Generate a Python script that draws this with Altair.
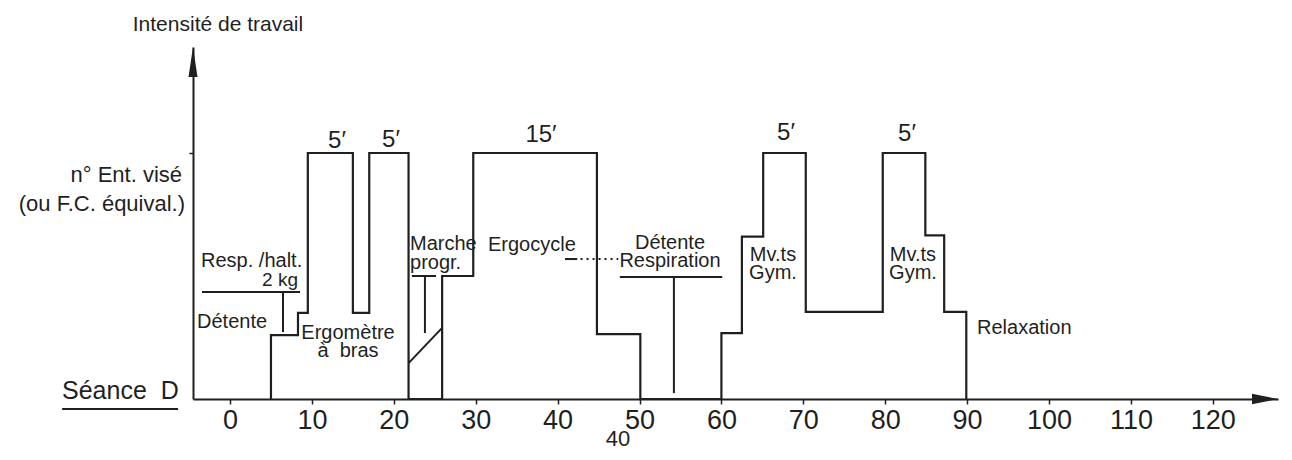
import altair as alt
import pandas as pd

INK = "#1f1f1f"
FONT = "Liberation Sans"
NB = "\u00a0"

# plot-area domains (x: minutes, y: relative work intensity, 10 = target level)
XMIN, XMAX = -4.52, 127.96
YMIN, YMAX = 0.0, 14.31

# main intensity profile (step path)
profile_x = [5, 5, 8.3, 8.3, 9.5, 9.5, 15, 15, 17, 17, 21.8, 21.8, 25.9, 25.9,
             29.7, 29.7, 44.8, 44.8, 50.1, 50.1, 60, 60, 62.5, 62.5, 65.1, 65.1,
             70.3, 70.3, 79.7, 79.7, 84.9, 84.9, 87.2, 87.2, 89.9, 89.9]
profile_y = [0, 2.6, 2.6, 3.5, 3.5, 10, 10, 3.5, 3.5, 10, 10, 0, 0, 5.0,
             5.0, 10, 10, 2.64, 2.64, 0, 0, 2.68, 2.68, 6.6, 6.6, 10,
             10, 3.54, 3.54, 10, 10, 6.65, 6.65, 3.54, 3.54, 0]

# progressive walk ramp
ramp_x = [21.8, 25.9]
ramp_y = [1.46, 2.89]

# annotation leader lines
seg_x1 = [-3.42, 6.47, 22.2, 23.8, 47.6, 54.2, -20.5, 40.9]
seg_x2 = [8.55, 6.47, 25.15, 23.8, 60.1, 54.2, -6.35, 42.4]
seg_y1 = [4.35, 4.35, 5.0, 5.0, 4.96, 4.96, -0.41, 5.69]
seg_y2 = [4.35, 2.72, 5.0, 2.68, 4.96, 0.24, -0.41, 5.69]

dot_x1 = [42.8]
dot_x2 = [47.4]
dot_y = [5.69]

# activity labels
left_labels = ["Resp. /halt.", "Détente", "Marche\nprogr.", "Ergocycle", "Relaxation"]
left_x = [-3.54, -4.03, 21.98, 31.5, 91.21]
left_y = [5.62, 3.13, 6.30, 6.26, 2.89]

center_labels = ["Ergomètre\nà" + NB + NB + "bras", "Détente\nRespiration", "Mv.ts\nGym.", "Mv.ts\nGym."]
center_x = [14.41, 53.72, 66.30, 83.39]
center_y = [2.68, 6.34, 5.85, 5.85]

right_labels = ["2 kg"]
right_x = [8.30]
right_y = [4.84]

# durations
dur_labels = ["5′", "5′", "15′", "5′", "5′"]
dur_x = [13.06, 19.66, 37.97, 67.89, 82.66]
dur_y = [10.49, 10.53, 10.73, 10.81, 10.77]

# y-axis level label
ylab_labels = ["n° Ent. visé", "(ou F.C. équival.)"]
ylab_x = [-5.86, -5.49]
ylab_y = [9.11, 7.93]

title_label = ["Intensité de travail"]
title_x = [-1.47]
title_y = [15.2]

seance_label = ["Séance" + NB + NB + "D"]
seance_x = [-20.51]
seance_y = [0.33]

page_label = ["40"]
page_x = [47.37]
page_y = [-1.62]

x_ticks = [0, 10, 20, 30, 40, 50, 60, 70, 80, 90, 100, 110, 120]
y_ticks = [10]

xs = alt.Scale(domain=[XMIN, XMAX], nice=False, zero=False)
ys = alt.Scale(domain=[YMIN, YMAX], nice=False, zero=False)
x_axis = alt.Axis(values=x_ticks, title=None, grid=False, domainColor=INK, domainWidth=2,
                  tickColor=INK, tickWidth=1.5, tickSize=5, labelFont=FONT, labelFontSize=27,
                  labelColor=INK, labelPadding=3, labelFlush=False, labelOverlap=False)
y_axis = alt.Axis(values=y_ticks, title=None, grid=False, labels=False, domainColor=INK,
                  domainWidth=2, tickColor=INK, tickWidth=1.5, tickSize=4)


def X(f="x"):
    return alt.X(f + ":Q", scale=xs, axis=x_axis)


def Y(f="y"):
    return alt.Y(f + ":Q", scale=ys, axis=y_axis)


prof_df = pd.DataFrame({"x": profile_x, "y": profile_y, "i": list(range(len(profile_x)))})
profile = alt.Chart(prof_df).mark_line(color=INK, strokeWidth=2.2, strokeJoin="miter").encode(
    x=X(), y=Y(), order="i:Q")

ramp_df = pd.DataFrame({"x": [ramp_x[0]], "x2": [ramp_x[1]], "y": [ramp_y[0]], "y2": [ramp_y[1]]})
ramp = alt.Chart(ramp_df).mark_rule(color=INK, strokeWidth=2).encode(
    x=X(), x2="x2:Q", y=Y(), y2="y2:Q")

seg_df = pd.DataFrame({"x": seg_x1, "x2": seg_x2, "y": seg_y1, "y2": seg_y2})
segs = alt.Chart(seg_df).mark_rule(color=INK, strokeWidth=2).encode(
    x=X(), x2="x2:Q", y=Y(), y2="y2:Q")

dot_df = pd.DataFrame({"x": dot_x1, "x2": dot_x2, "y": dot_y, "y2": dot_y})
dots = alt.Chart(dot_df).mark_rule(color=INK, strokeWidth=2, strokeDash=[2, 4]).encode(
    x=X(), x2="x2:Q", y=Y(), y2="y2:Q")

arrow_r = alt.Chart(pd.DataFrame({"x": [XMAX], "y": [YMIN]})).mark_point(
    shape="M0,0 L-2,-0.4 L-2,0.4 Z", size=676, filled=True, color=INK, opacity=1).encode(x=X(), y=Y())
arrow_u = alt.Chart(pd.DataFrame({"x": [XMIN], "y": [YMAX]})).mark_point(
    shape="M0,0 L-0.3,2 L0.3,2 Z", size=900, filled=True, color=INK, opacity=1).encode(x=X(), y=Y())


def texts(labels, xv, yv, align, size, lh=18):
    df = pd.DataFrame({"x": xv, "y": yv, "t": labels})
    return alt.Chart(df).mark_text(align=align, baseline="middle", font=FONT, fontSize=size,
                                   color=INK, lineBreak="\n", lineHeight=lh).encode(
        x=X(), y=Y(), text="t:N")


layers = [
    profile, ramp, segs, dots, arrow_r, arrow_u,
    texts(left_labels, left_x, left_y, "left", 20, 19),
    texts(center_labels, center_x, center_y, "center", 20, 18),
    texts(right_labels, right_x, right_y, "right", 19),
    texts(dur_labels, dur_x, dur_y, "center", 24),
    texts(ylab_labels, ylab_x, ylab_y, "right", 22),
    texts(title_label, title_x, title_y, "center", 21),
    texts(seance_label, seance_x, seance_y, "left", 25),
    texts(page_label, page_x, page_y, "center", 22),
]

chart = alt.layer(*layers).properties(
    width=1085, height=352,
    padding={"left": 185, "top": 39, "right": 6, "bottom": 53},
    autosize=alt.AutoSizeParams(type="none"),
    background="white",
).configure_view(stroke=None)

chart.save("out.html", embed_options={"renderer": "svg", "actions": False})
